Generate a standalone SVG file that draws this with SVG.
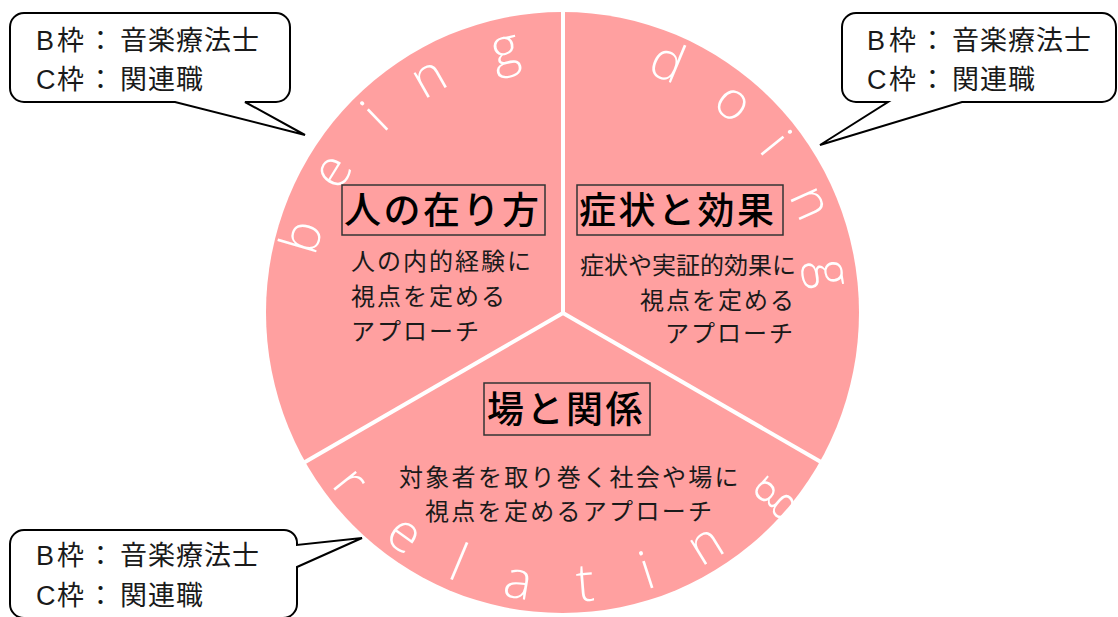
<svg xmlns="http://www.w3.org/2000/svg" width="1118" height="617" viewBox="0 0 1118 617">
<style>
.bg{fill:#ffffff}
.pie{fill:#ffa0a0}
.div{stroke:#ffffff;stroke-width:4;fill:none}
.arc{font-family:"Open Sans","Noto Sans","DejaVu Sans",sans-serif;font-weight:300;font-size:53px;fill:#ffffff;text-anchor:middle}
.tbox{fill:none;stroke:#333333;stroke-width:1.5}
.title{font-family:"Noto Sans CJK JP","Noto Sans CJK SC",sans-serif;font-weight:500;font-size:37px;letter-spacing:2.5px;fill:#000000}
.body{font-family:"Noto Sans CJK JP","Noto Sans CJK SC",sans-serif;font-size:24px;letter-spacing:2px;fill:#1a1a1a}
.call{fill:#ffffff;stroke:#000000;stroke-width:2;stroke-linejoin:miter}
.ct{font-family:"Liberation Sans","Noto Sans CJK JP",sans-serif;font-size:27px;fill:#1a1a1a}
</style>
<rect class="bg" x="0" y="0" width="1118" height="617"/>

<g id="pie">
<ellipse class="pie" cx="562.5" cy="312.5" rx="296.5" ry="300.5"/>
</g>

<g id="connectors">
<line class="div" x1="563" y1="313" x2="563" y2="5"/>
<line class="div" x1="563" y1="313" x2="299" y2="465.5"/>
<line class="div" x1="563" y1="313" x2="827" y2="465.5"/>
</g>

<g id="being-label">
<text class="arc" transform="translate(563,313) rotate(286.3) translate(0,-254)">b</text>
<text class="arc" transform="translate(563,313) rotate(301.6) translate(0,-254)">e</text>
<text class="arc" transform="translate(563,313) rotate(316.2) translate(0,-254)">i</text>
<text class="arc" transform="translate(563,313) rotate(330.3) translate(0,-254)">n</text>
<text class="arc" transform="translate(563,313) rotate(347.6) translate(0,-254)">g</text>
</g>

<g id="doing-label">
<text class="arc" transform="translate(563,313) rotate(22.6) translate(0,-254)">d</text>
<text class="arc" transform="translate(563,313) rotate(39) translate(0,-254)">o</text>
<text class="arc" transform="translate(563,313) rotate(51.4) translate(0,-254)">i</text>
<text class="arc" transform="translate(563,313) rotate(66) translate(0,-254)">n</text>
<text class="arc" transform="translate(563,313) rotate(81.5) translate(0,-254)">g</text>
</g>

<g id="relating-label">
<text class="arc" transform="translate(563,313) rotate(51.5) translate(0,289)">r</text>
<text class="arc" transform="translate(563,313) rotate(35.6) translate(0,289)">e</text>
<text class="arc" transform="translate(563,313) rotate(22.7) translate(0,289)">l</text>
<text class="arc" transform="translate(563,313) rotate(9.5) translate(0,289)">a</text>
<text class="arc" transform="translate(563,313) rotate(-4.7) translate(0,289)">t</text>
<text class="arc" transform="translate(563,313) rotate(-18) translate(0,289)">i</text>
<text class="arc" transform="translate(563,313) rotate(-31.6) translate(0,289)">n</text>
<text class="arc" transform="translate(563,313) rotate(-48.7) translate(0,289)">g</text>
</g>

<g id="node-being">
<rect class="tbox" x="342" y="185" width="203" height="50"/>
<text class="title" x="344" y="224">人の在り方</text>
<text class="body" x="351" y="270">人の内的経験に</text>
<text class="body" x="351" y="305">視点を定める</text>
<text class="body" x="351" y="340">アプローチ</text>
</g>

<g id="node-doing">
<rect class="tbox" x="577" y="185" width="206" height="50"/>
<text class="title" x="579" y="224">症状と効果</text>
<text class="body" x="580" y="274" style="letter-spacing:0px">症状や実証的効果に</text>
<text class="body" x="640" y="309">視点を定める</text>
<text class="body" x="665" y="342">アプローチ</text>
</g>

<g id="node-relating">
<rect class="tbox" x="484" y="383" width="166" height="52"/>
<text class="title" x="487" y="423">場と関係</text>
<text class="body" x="399" y="486" style="letter-spacing:2.3px">対象者を取り巻く社会や場に</text>
<text class="body" x="425" y="520" style="letter-spacing:2.3px">視点を定めるアプローチ</text>
</g>

<g id="callout-top-left">
<path class="call" d="M 24,13 H 276 A14,14 0 0 1 290,27 V 88 A14,14 0 0 1 276,102 H 245 L 305,135 L 175,102 H 24 A14,14 0 0 1 10,88 V 27 A14,14 0 0 1 24,13 Z"/>
<text class="ct" y="50"><tspan x="36">B</tspan><tspan x="57">枠</tspan><tspan x="87">：</tspan><tspan x="120" letter-spacing="1">音楽療法士</tspan></text>
<text class="ct" y="89"><tspan x="36">C</tspan><tspan x="57">枠</tspan><tspan x="87">：</tspan><tspan x="120" letter-spacing="1">関連職</tspan></text>
</g>

<g id="callout-top-right">
<path class="call" d="M 856,13 H 1102 A14,14 0 0 1 1116,27 V 88 A14,14 0 0 1 1102,102 H 962 L 820,145 L 888,102 H 856 A14,14 0 0 1 842,88 V 27 A14,14 0 0 1 856,13 Z"/>
<text class="ct" y="50"><tspan x="867">B</tspan><tspan x="889">枠</tspan><tspan x="919">：</tspan><tspan x="952" letter-spacing="1">音楽療法士</tspan></text>
<text class="ct" y="89"><tspan x="867">C</tspan><tspan x="889">枠</tspan><tspan x="919">：</tspan><tspan x="952" letter-spacing="1">関連職</tspan></text>
</g>

<g id="callout-bottom-left">
<path class="call" d="M 24,530 H 284 A13,13 0 0 1 297,543 V 545 L 362,538 L 297,567 V 604 A14,14 0 0 1 283,618 H 24 A14,14 0 0 1 10,604 V 544 A14,14 0 0 1 24,530 Z"/>
<text class="ct" y="565"><tspan x="36">B</tspan><tspan x="57">枠</tspan><tspan x="87">：</tspan><tspan x="120" letter-spacing="1">音楽療法士</tspan></text>
<text class="ct" y="605"><tspan x="36">C</tspan><tspan x="57">枠</tspan><tspan x="87">：</tspan><tspan x="120" letter-spacing="1">関連職</tspan></text>
</g>
</svg>
